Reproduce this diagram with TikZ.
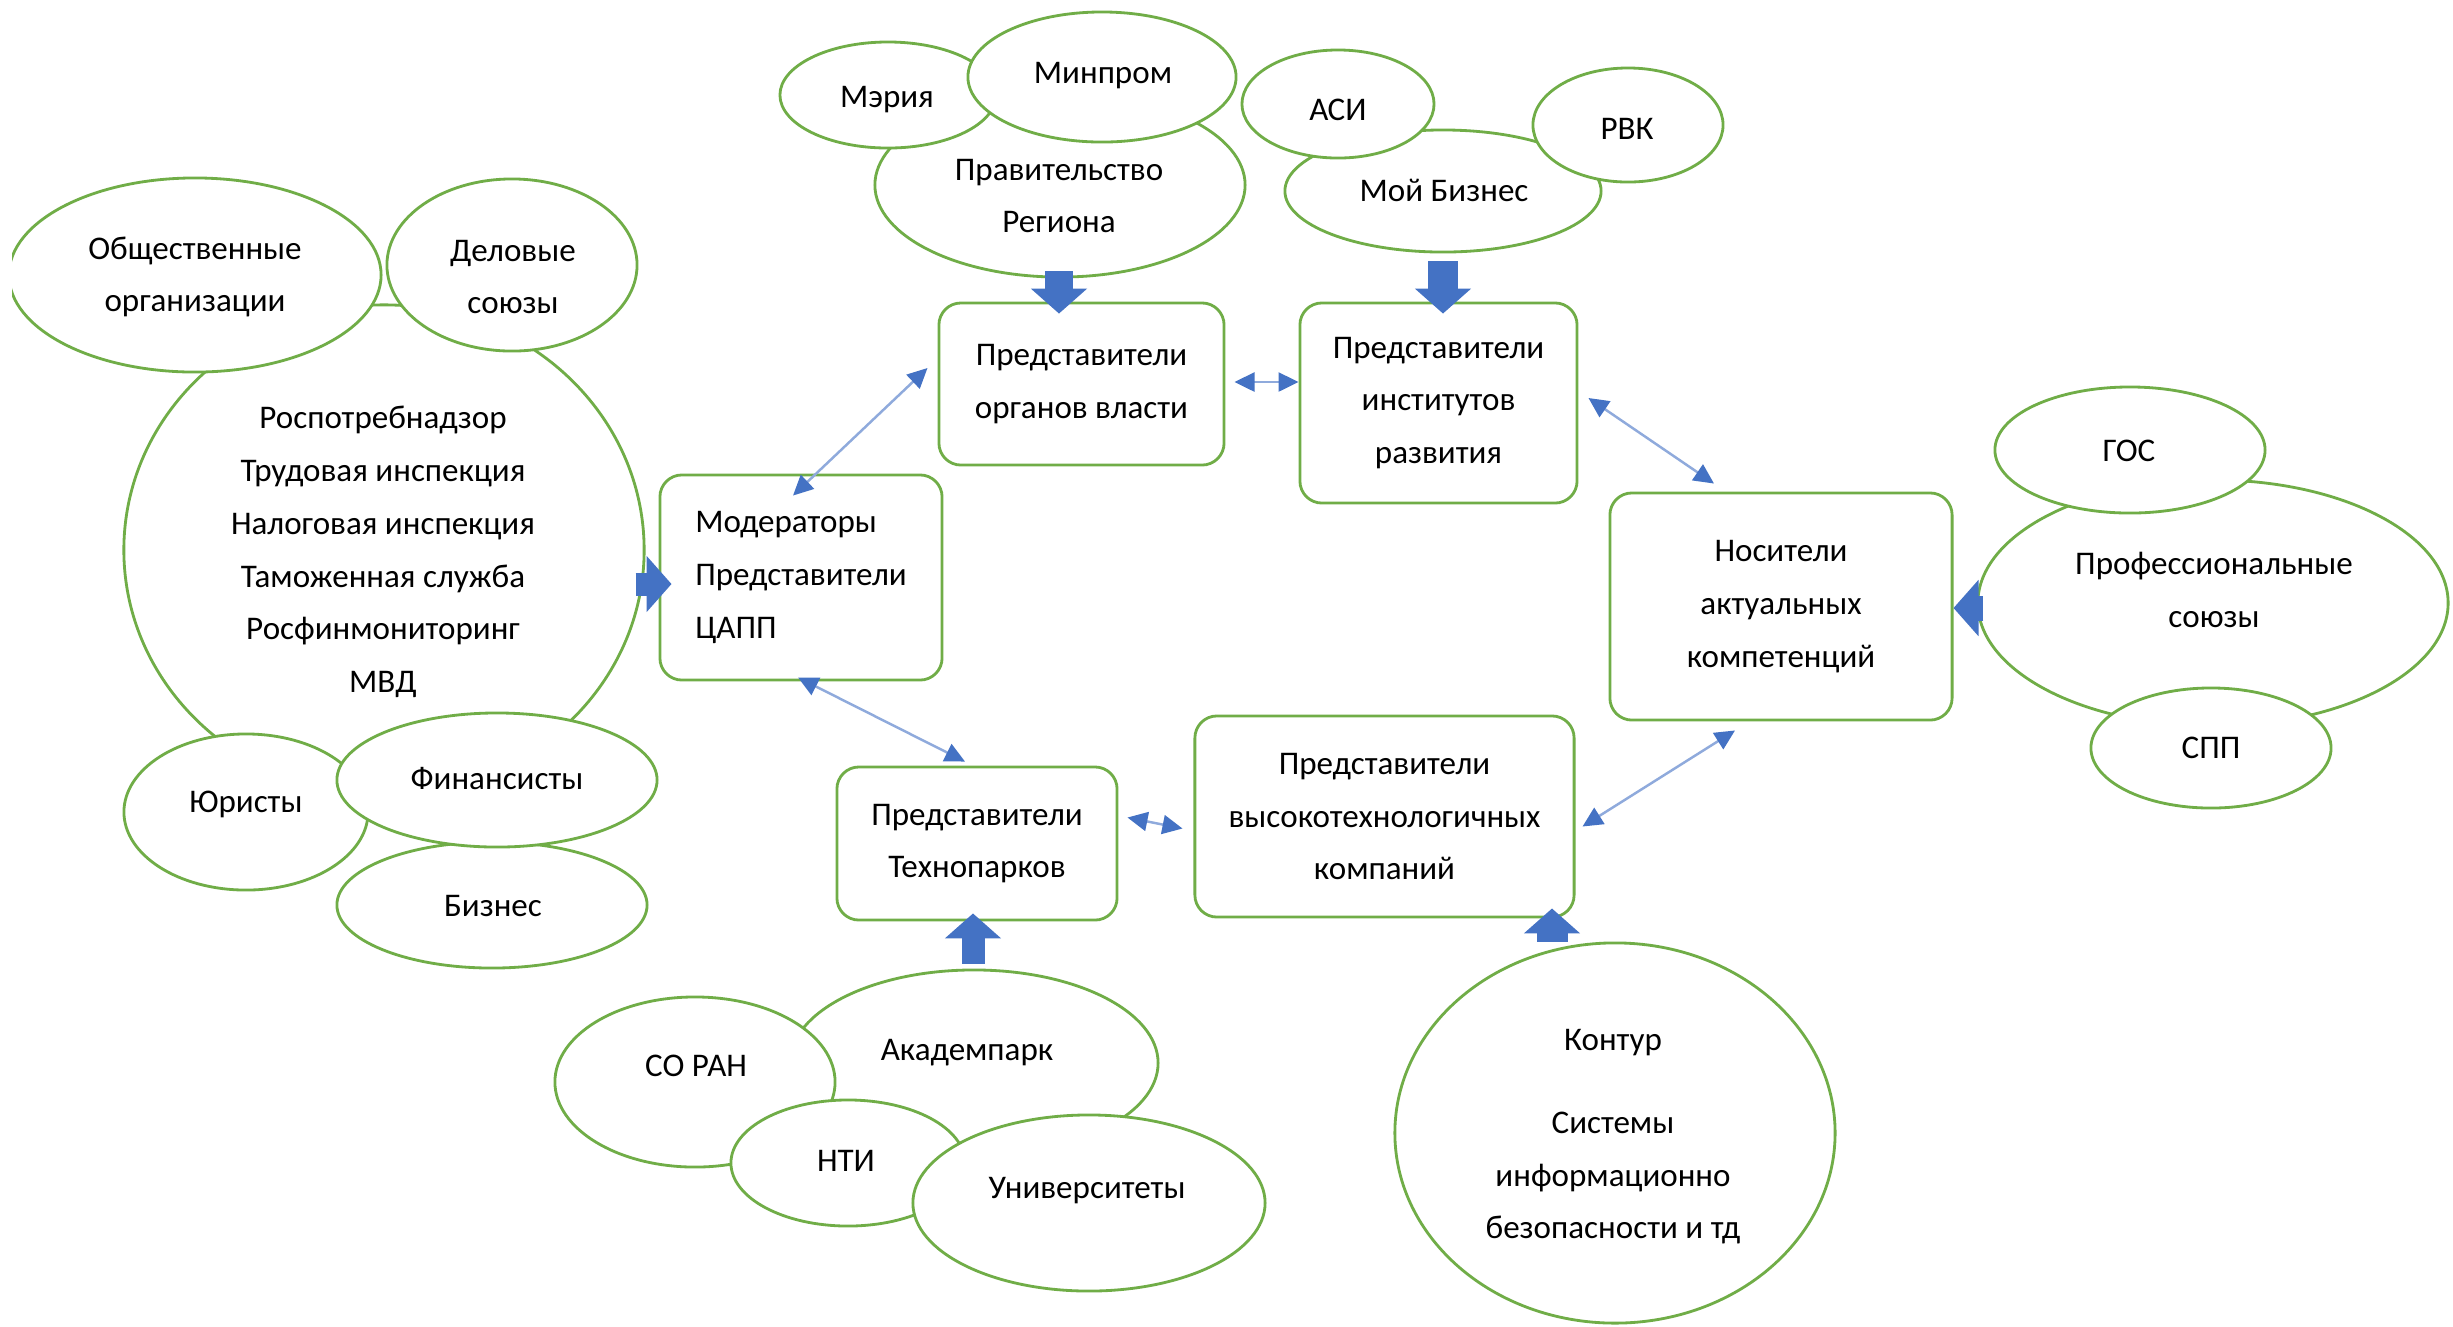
\documentclass[tikz,border=0pt]{standalone}
\usepackage{fontspec}
\setmainfont{Carlito}
\usetikzlibrary{shapes.geometric,arrows.meta,calc}
\definecolor{egreen}{HTML}{70AD47}
\definecolor{ablue}{HTML}{4472C4}
\definecolor{lblue}{HTML}{8FAADC}
\tikzset{
  ell/.style={ellipse, draw=egreen, line width=0.8pt, fill=white, inner sep=0pt},
  txt/.style={align=center, inner sep=0pt},
  box/.style={rectangle, rounded corners=0.22cm, draw=egreen, line width=0.8pt, fill=white, align=center},
  dbl/.style={draw=lblue, line width=0.7pt, <->, >={Triangle[width=0.19cm,length=0.2cm,color=ablue]}},
  barrow/.style={draw=ablue, line width=#1, -{Triangle[width=0.55cm,length=0.25cm]}},
  barrow/.default=0.27cm
}
\begin{document}
\begin{tikzpicture}[x=0.01cm, y=-0.01cm, font=\fontsize{9.4}{15}\selectfont]
\fill[white] (0,0) rectangle (2453,1326);
\useasboundingbox (0,0) rectangle (2453,1326);
\clip (12,0) rectangle (2453,1326);

% left cluster
\node[ell, minimum width=5.20cm, minimum height=4.90cm] (big) at (384,550) {};
\node[txt] (bigt) at (383,552) {Роспотребнадзор\\Трудовая инспекция\\Налоговая инспекция\\Таможенная служба\\Росфинмониторинг\\МВД};
\node[ell, minimum width=3.72cm, minimum height=1.94cm] (obsh) at (195,275) {};
\node[txt] (obsht) at (195,277) {Общественные\\организации};
\node[ell, minimum width=2.50cm, minimum height=1.72cm] (delov) at (512,265) {};
\node[txt] (delovt) at (513,277) {Деловые\\союзы};
\node[ell, minimum width=2.44cm, minimum height=1.56cm] (yur) at (246,812) {};
\node[txt] (yurt) at (246,804) {Юристы};
\node[ell, minimum width=3.10cm, minimum height=1.26cm] (bizn) at (492,905) {};
\node[txt] (biznt) at (493,906) {Бизнес};
\node[ell, minimum width=3.20cm, minimum height=1.34cm] (fin) at (497,780) {};
\node[txt] (fint) at (497,779) {Финансисты};

% top cluster 1
\node[ell, minimum width=3.70cm, minimum height=1.84cm] (gov) at (1060,185) {};
\node[txt] (govt) at (1059,196) {Правительство\\Региона};
\node[ell, minimum width=2.16cm, minimum height=1.06cm] (meria) at (888,95) {};
\node[txt] (meriat) at (887,100) {Мэрия};
\node[ell, minimum width=2.68cm, minimum height=1.30cm] (minprom) at (1102,77) {};
\node[txt] (minpromt) at (1103,76) {Минпром};

% top cluster 2
\node[ell, minimum width=3.16cm, minimum height=1.22cm] (mybiz) at (1443,191) {};
\node[txt] (mybizt) at (1444,190) {Мой Бизнес};
\node[ell, minimum width=1.92cm, minimum height=1.08cm] (asi) at (1338,104) {};
\node[txt] (asit) at (1338,110) {АСИ};
\node[ell, minimum width=1.90cm, minimum height=1.14cm] (rvk) at (1628,125) {};
\node[txt] (rvkt) at (1627,129) {РВК};

% right cluster
\node[ell, minimum width=4.70cm, minimum height=2.46cm] (prof) at (2213,603) {};
\node[txt] (proft) at (2214,590) {Профессиональные\\союзы};
\node[ell, minimum width=2.70cm, minimum height=1.26cm] (gos) at (2130,450) {};
\node[txt] (gost) at (2129,451) {ГОС};
\node[ell, minimum width=2.40cm, minimum height=1.20cm] (spp) at (2211,748) {};
\node[txt] (sppt) at (2211,748) {СПП};

% bottom cluster
\node[ell, minimum width=3.68cm, minimum height=1.86cm] (akad) at (974,1063) {};
\node[txt] (akadt) at (967,1053) {Академпарк};
\node[ell, minimum width=2.80cm, minimum height=1.70cm] (soran) at (695,1082) {};
\node[txt] (sorant) at (696,1066) {СО РАН};
\node[ell, minimum width=2.34cm, minimum height=1.26cm] (nti) at (848,1163) {};
\node[txt] (ntit) at (846,1161) {НТИ};
\node[ell, minimum width=3.52cm, minimum height=1.76cm] (univ) at (1089,1203) {};
\node[txt] (univt) at (1087,1191) {Университеты};

\node[ell, minimum width=4.40cm, minimum height=3.80cm] (kontur) at (1615,1133) {};
\node[txt] (kontort) at (1613,1137) {Контур\\[8.5pt]Системы\\информационно\\безопасности и тд};

% boxes
\node[box, minimum width=2.85cm, minimum height=1.62cm] (auth) at (1081.5,384) {Представители\\органов власти};
\node[box, minimum width=2.77cm, minimum height=2.00cm] (inst) at (1438.5,403) {Представители\\институтов\\развития};
\node[box, minimum width=2.82cm, minimum height=2.05cm, align=left] (mod) at (801,577.5) {Модераторы\\Представители\\ЦАПП};
\node[box, minimum width=3.42cm, minimum height=2.27cm] (nos) at (1781,606.5) {Носители\\актуальных\\компетенций};
\node[box, minimum width=2.80cm, minimum height=1.53cm] (tech) at (977,843.5) {Представители\\Технопарков};
\node[box, minimum width=3.79cm, minimum height=2.01cm] (hitech) at (1384.5,816.5) {Представители\\высокотехнологичных\\компаний};

% thin double arrows
\draw[dbl] ($(mod.north)+(-8,22)$) -- ($(auth.west)+(-10,-16)$);
\draw[dbl] ($(auth.east)+(9,-2)$) -- ($(inst.west)+(0,-21)$);
\draw[dbl] ($(inst.east)+(10,-5)$) -- ($(nos.north)+(-67,-8)$);
\draw[dbl] ($(hitech.east)+(7,10)$) -- ($(nos.south)+(-46,9)$);
\draw[dbl] ($(mod.south)+(-3,-4)$) -- ($(tech.north)+(-12,-4)$);
\draw[dbl] ($(tech.east)+(9,-26)$) -- ($(hitech.west)+(-11,12)$);

% block arrows
\draw[barrow] ($(gov.south)+(-1,-7)$) -- ($(auth.north)+(-22.5,12)$);
\draw[barrow=0.30cm] ($(mybiz.south)+(0,8)$) -- ($(inst.north)+(4.5,12)$);
\draw[barrow=0.23cm] ($(big.east)+(-10,34)$) -- ($(mod.west)+(13,6.5)$);
\draw[barrow=0.25cm] ($(prof.west)+(7,5)$) -- ($(nos.east)+(0,1.5)$);
\draw[barrow=0.31cm] ($(kontur.north)+(-63,0)$) -- ($(hitech.south)+(167.5,-10)$);
\draw[barrow=0.23cm] ($(akad.north)+(-1,-5)$) -- ($(tech.south)+(-4,-8)$);
\end{tikzpicture}
\end{document}
